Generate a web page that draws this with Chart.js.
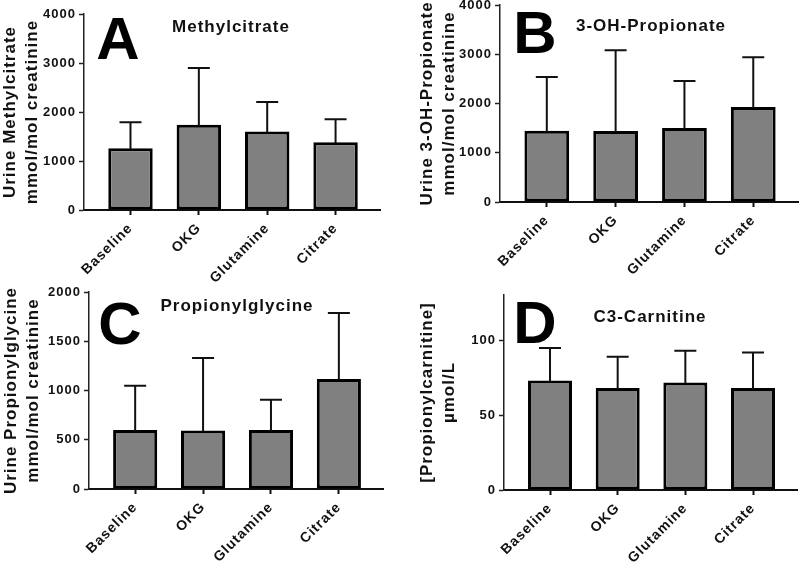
<!DOCTYPE html>
<html>
<head>
<meta charset="utf-8"/>
<title>Propionate metabolites</title>
<script src="https://cdn.jsdelivr.net/npm/chart.js"></script>
<style>
  body { margin: 0; background: #fff; }
  #wrap { position: relative; width: 800px; height: 563px; }
  #wrap canvas { position: absolute; left: 0; top: 0; }
</style>
</head>
<body>
<div id="wrap">
  <canvas id="chartA" width="800" height="563"></canvas>
  <canvas id="chartB" width="800" height="563"></canvas>
  <canvas id="chartC" width="800" height="563"></canvas>
  <canvas id="chartD" width="800" height="563"></canvas>
</div>
<script>
// data (mean and SD upper error)
const categories = ['Baseline', 'OKG', 'Glutamine', 'Citrate'];

const methylcitrateMean = [1260, 1740, 1600, 1385];
const methylcitrateSD   = [530, 1160, 605, 465];

const hydroxyPropMean = [1445, 1440, 1505, 1930];
const hydroxyPropSD   = [1095, 1640, 950, 1010];

const propionylglycineMean = [600, 593, 600, 1118];
const propionylglycineSD   = [447, 736, 305, 668];

const c3CarnitineMean = [73, 68, 71.7, 68];
const c3CarnitineSD   = [21.7, 20.9, 21.2, 23.6];

const yTicksA = [0, 1000, 2000, 3000, 4000];
const yTicksB = [0, 1000, 2000, 3000, 4000];
const yTicksC = [0, 500, 1000, 1500, 2000];
const yTicksD = [0, 50, 100];

const FONT = '"Liberation Sans", Arial, Helvetica, sans-serif';
Chart.defaults.font.family = FONT;
Chart.defaults.font.weight = 'bold';
Chart.defaults.color = '#111';

// a little wider lettering like the original
const spacing = {
  id: 'spacing',
  beforeUpdate(chart) { chart.ctx.letterSpacing = '1px'; },
  beforeDraw(chart) { chart.ctx.letterSpacing = '1px'; }
};

// SD whiskers on top of each bar
const errorBars = {
  id: 'errorBars',
  afterDatasetsDraw(chart, args, opts) {
    const ctx = chart.ctx;
    const yScale = chart.scales.y;
    const ds = chart.data.datasets[0];
    const meta = chart.getDatasetMeta(0);
    ctx.save();
    ctx.strokeStyle = '#111';
    ctx.lineWidth = 2;
    meta.data.forEach((bar, i) => {
      const yTop = yScale.getPixelForValue(ds.data[i].y + opts.sd[i]);
      ctx.beginPath();
      ctx.moveTo(bar.x, bar.y + 1);
      ctx.lineTo(bar.x, yTop);
      ctx.moveTo(bar.x - 11, yTop);
      ctx.lineTo(bar.x + 11, yTop);
      ctx.stroke();
    });
    ctx.restore();
  }
};

// big panel letter + compound name
const panelLabels = {
  id: 'panelLabels',
  afterDraw(chart, args, o) {
    const ctx = chart.ctx;
    ctx.save();
    ctx.fillStyle = '#000';
    ctx.textAlign = 'center';
    ctx.letterSpacing = '0px';
    ctx.font = 'bold 60px ' + FONT;
    ctx.textBaseline = 'alphabetic';
    ctx.fillText(o.letter, o.lx, o.ly);
    ctx.letterSpacing = '1px';
    ctx.font = 'bold 17px ' + FONT;
    ctx.textBaseline = 'middle';
    ctx.fillStyle = '#111';
    ctx.fillText(o.title, o.tx, o.ty);
    ctx.restore();
  }
};

function makePanel(id, p) {
  const area = p.area;
  return new Chart(document.getElementById(id), {
    type: 'bar',
    data: {
      datasets: [{
        data: p.mean.map((v, i) => ({ x: i, y: v })),
        backgroundColor: '#808080',
        borderColor: '#000',
        borderWidth: 3,
        borderSkipped: false,
        barPercentage: 0.65,
        categoryPercentage: 1
      }]
    },
    options: {
      responsive: false,
      animation: false,
      events: [],
      layout: { padding: { left: p.padLeft, top: area.top, right: 800 - area.right, bottom: 0 } },
      plugins: {
        legend: { display: false },
        tooltip: { enabled: false },
        errorBars: { sd: p.sd },
        panelLabels: p.labels
      },
      scales: {
        x: {
          type: 'linear',
          offset: false,
          min: -0.68,
          max: 3.65,
          afterBuildTicks: s => { s.ticks = categories.map((c, i) => ({ value: i })); },
          afterFit: s => { s.height = 563 - area.bottom; s.paddingLeft = 0; s.paddingRight = 0; },
          ticks: {
            callback: v => categories[v],
            autoSkip: false,
            minRotation: 45,
            maxRotation: 45,
            padding: 5,
            font: { size: 14, weight: 'bold' }
          },
          grid: { offset: false, drawOnChartArea: false, drawTicks: true, tickLength: 5, tickColor: '#111', tickWidth: 2 },
          border: { color: '#111', width: 2 }
        },
        y: {
          min: 0,
          max: p.yMax,
          afterBuildTicks: s => { s.ticks = p.yTicks.map(v => ({ value: v })); },
          afterFit: s => { s.width = area.left - p.padLeft; s.paddingTop = 0; s.paddingBottom = 0; },
          ticks: { padding: 3, callback: v => String(v), font: { size: 13, weight: 'bold' } },
          grid: { drawOnChartArea: false, drawTicks: true, tickLength: 5, tickColor: '#222', tickWidth: 1.5 },
          border: { color: '#222', width: 1.5 },
          title: {
            display: true,
            text: p.yTitle,
            padding: 0,
            color: '#111',
            font: { size: 17, weight: 'bold', lineHeight: 1.25 }
          }
        }
      }
    },
    plugins: [spacing, errorBars, panelLabels]
  });
}

makePanel('chartA', {
  mean: methylcitrateMean, sd: methylcitrateSD, yMax: 4000, yTicks: yTicksA,
  yTitle: ['Urine Methylcitrate', 'mmol/mol creatinine'],
  padLeft: 0, area: { left: 84, top: 14, right: 380, bottom: 210 },
  labels: { letter: 'A', lx: 118, ly: 59, title: 'Methylcitrate', tx: 231, ty: 27 }
});

makePanel('chartB', {
  mean: hydroxyPropMean, sd: hydroxyPropSD, yMax: 4000, yTicks: yTicksB,
  yTitle: ['Urine 3-OH-Propionate', 'mmol/mol creatinine'],
  padLeft: 417, area: { left: 500, top: 5, right: 798, bottom: 202 },
  labels: { letter: 'B', lx: 535, ly: 53, title: '3-OH-Propionate', tx: 651, ty: 26 }
});

makePanel('chartC', {
  mean: propionylglycineMean, sd: propionylglycineSD, yMax: 2000, yTicks: yTicksC,
  yTitle: ['Urine Propionylglycine', 'mmol/mol creatinine'],
  padLeft: 1, area: { left: 89, top: 292, right: 383, bottom: 489 },
  labels: { letter: 'C', lx: 120, ly: 344, title: 'Propionylglycine', tx: 237, ty: 306 }
});

makePanel('chartD', {
  mean: c3CarnitineMean, sd: c3CarnitineSD, yMax: 130, yTicks: yTicksD,
  yTitle: ['[Propionylcarnitine]', 'µmol/L'],
  padLeft: 417, area: { left: 504, top: 295, right: 797, bottom: 490 },
  labels: { letter: 'D', lx: 535, ly: 343, title: 'C3-Carnitine', tx: 650, ty: 317 }
});
</script>
</body>
</html>
